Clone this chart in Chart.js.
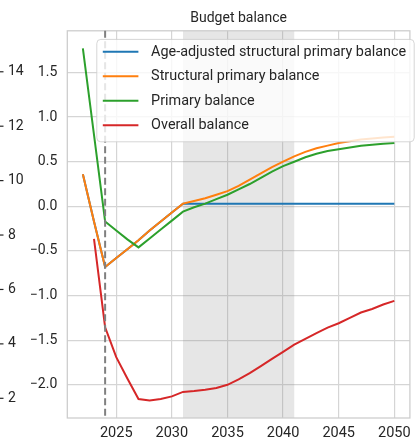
<!DOCTYPE html>
<html>
<head>
<meta charset="utf-8">
<script src="https://cdn.jsdelivr.net/npm/chart.js@4.4.1/dist/chart.umd.min.js"></script>
<style>
  html, body { margin: 0; padding: 0; background: #fff; }
  #wrap { width: 418px; height: 440px; }
</style>
</head>
<body>
<div id="wrap"><canvas id="bb"></canvas></div>
<script>
let years = [2022,2023,2024,2025,2026,2027,2028,2029,2030,2031,2032,2033,2034,2035,2036,
             2037,2038,2039,2040,2041,2042,2043,2044,2045,2046,2047,2048,2049,2050];
let ageAdjusted = [0.36,-0.17,-0.68,-0.58,-0.48,-0.38,-0.27,-0.17,-0.07,0.03,0.03,0.03,0.03,0.03,0.03,
                   0.03,0.03,0.03,0.03,0.03,0.03,0.03,0.03,0.03,0.03,0.03,0.03,0.03,0.03];
let structural = [0.36,-0.17,-0.68,-0.58,-0.48,-0.38,-0.27,-0.17,-0.07,0.03,0.06,0.09,0.13,0.17,0.23,
                  0.30,0.37,0.44,0.50,0.56,0.61,0.65,0.68,0.71,0.73,0.75,0.76,0.77,0.78];
let primary = [1.77,0.80,-0.17,-0.27,-0.37,-0.46,-0.36,-0.26,-0.16,-0.06,-0.01,0.03,0.08,0.13,0.19,
               0.25,0.32,0.39,0.45,0.50,0.55,0.59,0.62,0.64,0.66,0.68,0.69,0.70,0.71];
let overall = [null,-0.365,-1.355,-1.69,-1.93,-2.16,-2.175,-2.16,-2.13,-2.08,-2.07,-2.056,-2.035,-2.0,-1.94,
               -1.87,-1.79,-1.71,-1.63,-1.55,-1.485,-1.42,-1.36,-1.31,-1.25,-1.19,-1.15,-1.10,-1.06];

let xTicks = [2025, 2030, 2035, 2040, 2045, 2050];
let yTicks = [-2.0, -1.5, -1.0, -0.5, 0.0, 0.5, 1.0, 1.5];
let sideTicks = [2, 4, 6, 8, 10, 12, 14];   // axis of the neighbouring panel, cut off
let shadeYears = [2031, 2041];
let markerYear = 2024;

Chart.defaults.font.family = 'Roboto';
Chart.defaults.font.size = 14;
Chart.defaults.color = '#262626';

const pts = arr => years.map((yr, i) => ({ x: yr, y: arr[i] }));

const decor = {
  id: 'decor',
  beforeDatasetsDraw(chart) {
    const { ctx, chartArea: a, scales: { x } } = chart;
    const x0 = x.getPixelForValue(shadeYears[0]);
    const x1 = x.getPixelForValue(shadeYears[1]);
    ctx.save();
    ctx.fillStyle = 'rgba(128,128,128,0.2)';
    ctx.fillRect(x0, a.top, x1 - x0, a.bottom - a.top);
    ctx.strokeStyle = '#cccccc';
    ctx.lineWidth = 1.25;
    ctx.strokeRect(a.left, a.top, a.right - a.left, a.bottom - a.top);
    ctx.restore();
  },
  afterDatasetsDraw(chart) {
    const { ctx, chartArea: a, scales: { x } } = chart;
    ctx.save();
    // vertical dashed marker
    const xm = x.getPixelForValue(markerYear);
    ctx.strokeStyle = '#808080';
    ctx.lineWidth = 2;
    ctx.setLineDash([7, 3.5]);
    ctx.beginPath();
    ctx.moveTo(xm, a.top);
    ctx.lineTo(xm, a.bottom);
    ctx.stroke();
    ctx.setLineDash([]);

    // legend box, on top of the lines
    const sets = chart.data.datasets;
    ctx.font = '14.4px Roboto';
    const tw = Math.max(...sets.map(d => ctx.measureText(d.label).width));
    const bx = a.left + 29.5, by = a.top + 8.6;
    const bw = 54.3 + tw + 8, bh = 102.4;
    ctx.beginPath();
    ctx.roundRect(bx, by, bw, bh, 4);
    ctx.fillStyle = 'rgba(255,255,255,0.8)';
    ctx.fill();
    ctx.strokeStyle = 'rgba(204,204,204,0.8)';
    ctx.lineWidth = 1;
    ctx.stroke();
    ctx.textBaseline = 'middle';
    ctx.textAlign = 'left';
    sets.forEach((d, i) => {
      const ry = by + 12.4 + i * 24.5;
      ctx.strokeStyle = d.borderColor;
      ctx.lineWidth = 2;
      ctx.beginPath();
      ctx.moveTo(bx + 6, ry);
      ctx.lineTo(bx + 41.6, ry);
      ctx.stroke();
      ctx.fillStyle = '#262626';
      ctx.fillText(d.label, bx + 54.3, ry + 0.5);
    });
    ctx.restore();
  },
  afterDraw(chart) {
    // little tick marks of the cut-off neighbour axis
    const { ctx, scales: { y2 } } = chart;
    ctx.save();
    ctx.strokeStyle = '#262626';
    ctx.lineWidth = 1.2;
    y2.ticks.forEach(t => {
      const py = y2.getPixelForValue(t.value);
      ctx.beginPath();
      ctx.moveTo(0, py);
      ctx.lineTo(3.5, py);
      ctx.stroke();
    });
    ctx.restore();
  }
};

const bb = document.getElementById('bb').getContext('2d');
const bbChart = new Chart(bb, {
  type: 'line',
  data: {
    datasets: [
      { label: 'Age-adjusted structural primary balance', data: pts(ageAdjusted),
        borderColor: '#1f77b4', order: 3 },
      { label: 'Structural primary balance', data: pts(structural),
        borderColor: '#ff7f0e', order: 2 },
      { label: 'Primary balance', data: pts(primary),
        borderColor: '#2ca02c', order: 1 },
      { label: 'Overall balance', data: pts(overall),
        borderColor: '#d62728', order: 0 }
    ]
  },
  options: {
    responsive: true,
    maintainAspectRatio: false,
    animation: false,
    datasets: {
      line: { borderWidth: 2, pointRadius: 0, tension: 0, fill: false }
    },
    layout: { padding: { left: 8, right: 2, top: 0, bottom: 0 } },
    scales: {
      x: {
        type: 'linear',
        min: 2020.6,
        max: 2051.4,
        afterBuildTicks: axis => { axis.ticks = xTicks.map(v => ({ value: v })); },
        afterFit: axis => { axis.height = 22; },
        ticks: { padding: 7, maxRotation: 0, font: { size: 14.5 }, callback: v => String(v) },
        grid: { color: '#d5d5d5', lineWidth: 1.2, drawTicks: false },
        border: { display: false }
      },
      y: {
        min: -2.372,
        max: 1.967,
        afterBuildTicks: axis => { axis.ticks = yTicks.map(v => ({ value: v })); },
        afterFit: axis => { axis.width = 38; },
        ticks: { padding: 10, callback: v => v.toFixed(1).replace('-', '\u2212') },
        grid: { color: '#d5d5d5', lineWidth: 1.2, drawTicks: false },
        border: { display: false }
      },
      y2: {
        position: 'left',
        min: 1.276,
        max: 15.506,
        afterBuildTicks: axis => { axis.ticks = sideTicks.map(v => ({ value: v })); },
        afterFit: axis => { axis.width = 21.3; },
        ticks: { padding: 0, crossAlign: 'far' },
        grid: { display: false, drawTicks: false },
        border: { display: false }
      }
    },
    plugins: {
      legend: { display: false },
      tooltip: { enabled: false },
      title: {
        display: true,
        text: 'Budget balance',
        fullSize: false,
        color: '#262626',
        font: { size: 14, weight: 'normal' },
        padding: { top: 10, bottom: 4 }
      }
    }
  },
  plugins: [decor]
});
</script>
</body>
</html>
